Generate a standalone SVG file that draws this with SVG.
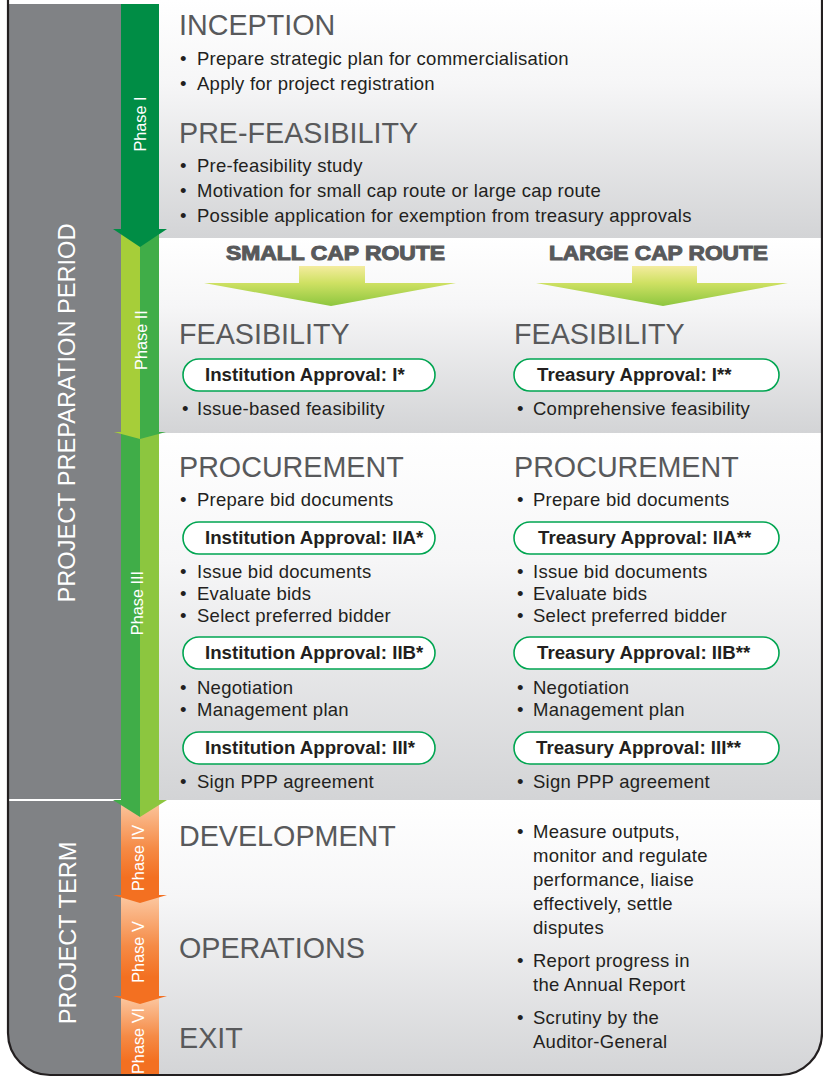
<svg xmlns="http://www.w3.org/2000/svg" width="823" height="1077" viewBox="0 0 823 1077">
<defs>
  <style>
    .head{font-family:"Liberation Sans",Arial,sans-serif;font-size:28.7px;fill:#58595b}
    .bul{font-family:"Liberation Sans",Arial,sans-serif;font-size:18.5px;letter-spacing:0.25px;fill:#231f20}
    .pilltxt{font-family:"Liberation Sans",Arial,sans-serif;font-size:18.7px;font-weight:bold;fill:#231f20}
    .pill{fill:#ffffff;stroke:#00a551;stroke-width:1.6}
    .route{font-family:"Liberation Sans",Arial,sans-serif;font-size:19.5px;font-weight:bold;fill:#58595b;stroke:#58595b;stroke-width:1}
    .phase{font-family:"Liberation Sans",Arial,sans-serif;font-size:16.3px;fill:#ffffff;text-anchor:middle}
    .period{font-family:"Liberation Sans",Arial,sans-serif;font-size:23.6px;fill:#ffffff;text-anchor:middle}
  </style>
  <linearGradient id="panelGrad" x1="0" y1="0" x2="0" y2="1">
    <stop offset="0" stop-color="#ffffff"/>
    <stop offset="0.35" stop-color="#f6f6f7"/>
    <stop offset="1" stop-color="#d3d4d6"/>
  </linearGradient>
  <linearGradient id="orangeGrad" x1="0" y1="0" x2="0" y2="1">
    <stop offset="0" stop-color="#fcc9a3"/>
    <stop offset="0.5" stop-color="#f58a45"/>
    <stop offset="0.8" stop-color="#f37021"/>
    <stop offset="1" stop-color="#f37021"/>
  </linearGradient>
  <linearGradient id="routeGrad" x1="0" y1="0" x2="0" y2="1">
    <stop offset="0" stop-color="#f4ec9f"/>
    <stop offset="0.42" stop-color="#cfe163"/>
    <stop offset="1" stop-color="#8dc63f"/>
  </linearGradient>
  <clipPath id="frameClip">
    <path d="M8,0 H822 V1033 A42,42 0 0 1 780,1075 H50 A42,42 0 0 1 8,1033 Z"/>
  </clipPath>
</defs>

<rect x="0" y="0" width="823" height="1077" fill="#ffffff"/>

<g id="background" clip-path="url(#frameClip)">
  <rect x="8" y="4" width="113" height="1073" fill="#808285"/>
  <line x1="8" y1="800" x2="121" y2="800" stroke="#ffffff" stroke-width="2"/>
  <rect x="159" y="0" width="663" height="238" fill="url(#panelGrad)"/>
  <rect x="159" y="238" width="663" height="195" fill="url(#panelGrad)"/>
  <rect x="159" y="433" width="663" height="367" fill="url(#panelGrad)"/>
  <rect x="159" y="800" width="663" height="277" fill="url(#panelGrad)"/>
</g>

<g id="periods">
  <text class="period" transform="translate(75,413) rotate(-90)">PROJECT PREPARATION PERIOD</text>
  <text class="period" transform="translate(76,933) rotate(-90)">PROJECT TERM</text>
</g>

<g id="phases" clip-path="url(#frameClip)">
  <g id="phase6">
    <rect x="121" y="996" width="38" height="81" fill="url(#orangeGrad)"/>
  </g>
  <g id="phase5">
    <rect x="121" y="895" width="38" height="103" fill="url(#orangeGrad)"/>
    <polygon points="113,996 167,996 140,1004" fill="#f37021"/>
  </g>
  <g id="phase4">
    <rect x="121" y="800" width="38" height="97" fill="url(#orangeGrad)"/>
    <polygon points="113,895 167,895 140,903" fill="#f37021"/>
  </g>
  <g id="phase3">
    <rect x="121" y="433" width="19" height="368" fill="#40ad48"/>
    <rect x="140" y="433" width="19" height="368" fill="#8cc63f"/>
    <polygon points="113,800 140,800 140,817" fill="#40ad48"/>
    <polygon points="140,800 167,800 140,817" fill="#8cc63f"/>
  </g>
  <g id="phase2">
    <rect x="121" y="229" width="19" height="205" fill="#a6ce39"/>
    <rect x="140" y="229" width="19" height="205" fill="#40ad48"/>
    <polygon points="114,432 140,432 140,439" fill="#a6ce39"/>
    <polygon points="140,432 166,432 140,439" fill="#40ad48"/>
  </g>
  <g id="phase1">
    <rect x="121" y="4" width="38" height="226" fill="#008d45"/>
    <polygon points="113,229 167,229 140,247" fill="#008d45"/>
  </g>
  <text class="phase" transform="translate(146,124) rotate(-90)">Phase I</text>
  <text class="phase" transform="translate(147,340) rotate(-90)">Phase II</text>
  <text class="phase" transform="translate(143,603) rotate(-90)">Phase III</text>
  <text class="phase" transform="translate(144,858) rotate(-90)">Phase IV</text>
  <text class="phase" transform="translate(144,952) rotate(-90)">Phase V</text>
  <text class="phase" transform="translate(144,1041) rotate(-90)">Phase VI</text>
</g>

<g id="inception">
  <text class="head" x="179" y="35">INCEPTION</text>
  <text class="bul" y="65"><tspan x="180">•</tspan><tspan x="197">Prepare strategic plan for commercialisation</tspan></text>
  <text class="bul" y="90"><tspan x="180">•</tspan><tspan x="197">Apply for project registration</tspan></text>
</g>

<g id="prefeasibility">
  <text class="head" x="179" y="143">PRE-FEASIBILITY</text>
  <text class="bul" y="172"><tspan x="180">•</tspan><tspan x="197">Pre-feasibility study</tspan></text>
  <text class="bul" y="197"><tspan x="180">•</tspan><tspan x="197">Motivation for small cap route or large cap route</tspan></text>
  <text class="bul" y="222"><tspan x="180">•</tspan><tspan x="197">Possible application for exemption from treasury approvals</tspan></text>
</g>

<g id="routes">
  <text class="route" x="226" y="260" textLength="219" lengthAdjust="spacingAndGlyphs">SMALL CAP ROUTE</text>
  <text class="route" x="549" y="260" textLength="219" lengthAdjust="spacingAndGlyphs">LARGE CAP ROUTE</text>
</g>

<g id="connectors">
  <polygon points="299,266 365,266 365,283 456,283 331,306 204,283 299,283" fill="url(#routeGrad)"/>
  <polygon points="632,266 697,266 697,283 788,283 663,306 536,283 632,283" fill="url(#routeGrad)"/>
</g>

<g id="feasibility-small">
  <text class="head" x="179" y="344">FEASIBILITY</text>
  <rect class="pill" x="183" y="359" width="252" height="32" rx="16"/>
  <text class="pilltxt" x="205" y="381">Institution Approval: I*</text>
  <text class="bul" y="415"><tspan x="182">•</tspan><tspan x="197">Issue-based feasibility</tspan></text>
</g>

<g id="feasibility-large">
  <text class="head" x="514" y="344">FEASIBILITY</text>
  <rect class="pill" x="514" y="359" width="265" height="32" rx="16"/>
  <text class="pilltxt" x="537" y="381">Treasury Approval: I**</text>
  <text class="bul" y="415"><tspan x="517">•</tspan><tspan x="533">Comprehensive feasibility</tspan></text>
</g>

<g id="procurement-small">
  <text class="head" x="179" y="477">PROCUREMENT</text>
  <text class="bul" y="506"><tspan x="180">•</tspan><tspan x="197">Prepare bid documents</tspan></text>
  <rect class="pill" x="183" y="522" width="252" height="32" rx="16"/>
  <text class="pilltxt" x="205" y="544">Institution Approval: IIA*</text>
  <text class="bul" y="578"><tspan x="180">•</tspan><tspan x="197">Issue bid documents</tspan></text>
  <text class="bul" y="600"><tspan x="180">•</tspan><tspan x="197">Evaluate bids</tspan></text>
  <text class="bul" y="622"><tspan x="180">•</tspan><tspan x="197">Select preferred bidder</tspan></text>
  <rect class="pill" x="183" y="637" width="252" height="32" rx="16"/>
  <text class="pilltxt" x="205" y="659">Institution Approval: IIB*</text>
  <text class="bul" y="694"><tspan x="180">•</tspan><tspan x="197">Negotiation</tspan></text>
  <text class="bul" y="716"><tspan x="180">•</tspan><tspan x="197">Management plan</tspan></text>
  <rect class="pill" x="183" y="732" width="252" height="32" rx="16"/>
  <text class="pilltxt" x="205" y="754">Institution Approval: III*</text>
  <text class="bul" y="788"><tspan x="180">•</tspan><tspan x="197">Sign PPP agreement</tspan></text>
</g>

<g id="procurement-large">
  <text class="head" x="514" y="477">PROCUREMENT</text>
  <text class="bul" y="506"><tspan x="517">•</tspan><tspan x="533">Prepare bid documents</tspan></text>
  <rect class="pill" x="514" y="522" width="265" height="32" rx="16"/>
  <text class="pilltxt" x="538" y="544">Treasury Approval: IIA**</text>
  <text class="bul" y="578"><tspan x="517">•</tspan><tspan x="533">Issue bid documents</tspan></text>
  <text class="bul" y="600"><tspan x="517">•</tspan><tspan x="533">Evaluate bids</tspan></text>
  <text class="bul" y="622"><tspan x="517">•</tspan><tspan x="533">Select preferred bidder</tspan></text>
  <rect class="pill" x="514" y="637" width="265" height="32" rx="16"/>
  <text class="pilltxt" x="537" y="659">Treasury Approval: IIB**</text>
  <text class="bul" y="694"><tspan x="517">•</tspan><tspan x="533">Negotiation</tspan></text>
  <text class="bul" y="716"><tspan x="517">•</tspan><tspan x="533">Management plan</tspan></text>
  <rect class="pill" x="514" y="732" width="265" height="32" rx="16"/>
  <text class="pilltxt" x="536" y="754">Treasury Approval: III**</text>
  <text class="bul" y="788"><tspan x="517">•</tspan><tspan x="533">Sign PPP agreement</tspan></text>
</g>

<g id="project-term">
  <text class="head" x="179" y="846">DEVELOPMENT</text>
  <text class="head" x="179" y="958">OPERATIONS</text>
  <text class="head" x="179" y="1048">EXIT</text>
  <text class="bul" y="838"><tspan x="517">•</tspan><tspan x="533">Measure outputs,</tspan></text>
  <text class="bul" x="533" y="862">monitor and regulate</text>
  <text class="bul" x="533" y="886">performance, liaise</text>
  <text class="bul" x="533" y="910">effectively, settle</text>
  <text class="bul" x="533" y="934">disputes</text>
  <text class="bul" y="967"><tspan x="517">•</tspan><tspan x="533">Report progress in</tspan></text>
  <text class="bul" x="533" y="991">the Annual Report</text>
  <text class="bul" y="1024"><tspan x="517">•</tspan><tspan x="533">Scrutiny by the</tspan></text>
  <text class="bul" x="533" y="1048">Auditor-General</text>
</g>

<g id="frame">
  <path d="M8,0 V1033 A42,42 0 0 0 50,1075 H780 A42,42 0 0 0 822,1033 V0" fill="none" stroke="#231f20" stroke-width="2.2"/>
</g>
</svg>
